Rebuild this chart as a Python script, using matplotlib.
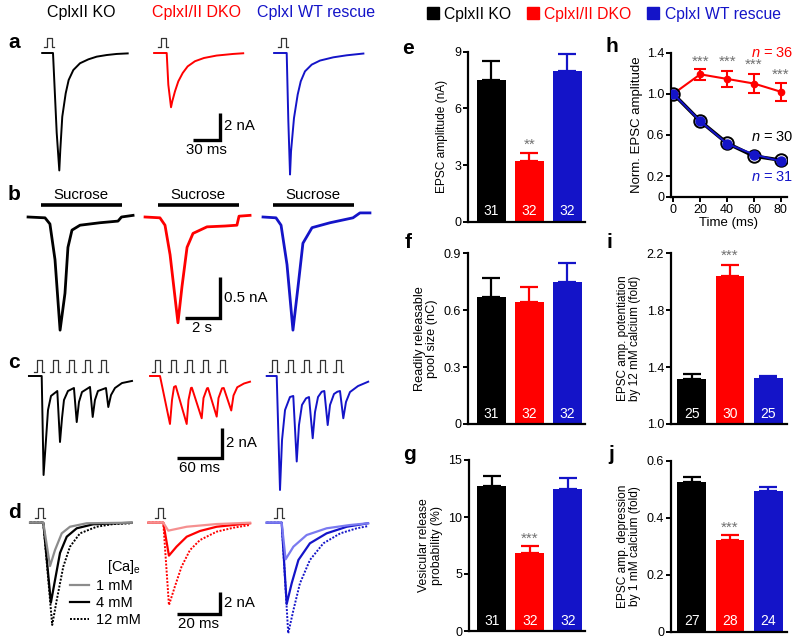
import numpy as np
import matplotlib
matplotlib.use('Agg')
import matplotlib.pyplot as plt
import matplotlib.transforms as mtransforms
from matplotlib.lines import Line2D
from matplotlib.patches import Patch

plt.rcParams['font.family'] = ['Liberation Sans', 'DejaVu Sans']
plt.rcParams['mathtext.fontset'] = 'custom'
plt.rcParams['mathtext.rm'] = 'Liberation Sans'
plt.rcParams['mathtext.it'] = 'Liberation Sans:italic'

# ---- data ----
GENOS = ['CplxII KO', 'CplxI/II DKO', 'CplxI WT rescue']
COLORS = ['#000000', '#ff0000', '#1414c8']
LIGHT = ['#8c8c8c', '#f59090', '#7a7af0']

# a: single EPSCs (ms, nA)
A_KO_T = [-12, 0, 4.1, 7, 8.1, 10.3, 14.1, 17.4, 22.6, 30, 39.3, 48.6, 59.7, 70.8, 83]
A_KO_I = [0, 0, -5.9, -8.7, -7.19, -4.72, -2.99, -2.0, -1.26, -0.76, -0.47, -0.27, -0.15, -0.07, -0.03]
A_DKO_T = [-14, 0, 1.8, 4.8, 6.2, 9.2, 12.9, 17.8, 23.3, 31.4, 41.4, 55.4, 73.8, 85]
A_DKO_I = [0, 0, -2.35, -4.02, -3.58, -2.84, -2.1, -1.48, -0.99, -0.61, -0.37, -0.19, -0.07, -0.02]
A_RES_T = [-14, 0, 1.8, 3.7, 4.8, 8.1, 12.2, 15.6, 20.3, 27.8, 37, 51.8, 66.7, 85.2]
A_RES_I = [0, 0, -5.0, -9.0, -7.29, -4.82, -3.08, -2.1, -1.36, -0.86, -0.56, -0.32, -0.17, -0.04]

# b: sucrose responses (s, nA)
SUCROSE_S = 4.6
B_KO_T = [-0.74, 0.23, 0.51, 0.8, 1.09, 1.37, 1.54, 1.77, 2.23, 3.37, 4.4, 4.6, 5.26]
B_KO_I = [0, -0.01, -0.085, -0.52, -1.38, -0.93, -0.37, -0.16, -0.1, -0.07, -0.05, 0, 0.02]
B_DKO_T = [-0.74, 0.11, 0.4, 0.69, 1.14, 1.37, 1.66, 2.0, 2.8, 3.83, 4.51, 4.63, 5.26]
B_DKO_I = [0, -0.01, -0.1, -0.46, -1.29, -0.85, -0.37, -0.2, -0.12, -0.11, -0.1, 0.01, 0.02]
B_RES_T = [-0.57, 0.17, 0.46, 0.8, 1.14, 1.43, 1.71, 2.23, 3.26, 4.57, 4.97, 5.54]
B_RES_I = [0, -0.01, -0.1, -0.58, -1.38, -0.85, -0.32, -0.13, -0.07, -0.01, 0.05, 0.05]

# c: trains (ms, nA)
STIM_C = [0, 21.5, 43, 64.5, 86]
C_KO_T = [-17, 0, 2.5, 5.7, 8.4, 12.4, 20.8, 24.4, 27.1, 29.7, 35, 43, 46.7, 49.7, 53.7,
          64.4, 68, 71, 75, 85.7, 88.8, 92.4, 97.7, 107, 120.4]
C_KO_I = [0, 0, -6.6, -4.27, -2.27, -1.33, -1.0, -4.4, -2.8, -1.6, -1.0, -0.8, -3.07, -1.73, -1.07,
          -0.73, -2.73, -1.6, -1.0, -0.8, -2.07, -1.27, -0.8, -0.47, -0.33]
C_DKO_T = [-13.3, 0, 13.3, 16, 18.7, 21, 35.6, 38, 41.3, 42.5, 55.6, 58, 62.7, 64,
           75.6, 78, 82.7, 85, 95, 98, 103, 112, 120]
C_DKO_I = [0, 0, -3.2, -1.6, -0.73, -0.67, -3.2, -1.6, -0.8, -0.78, -2.82, -1.47, -0.82, -0.8,
           -2.71, -1.47, -0.82, -0.8, -2.3, -1.3, -0.75, -0.5, -0.38]
C_RES_T = [-13.3, 0, 4.4, 7.1, 11.1, 17.7, 22.1, 26.7, 29.7, 33.7, 39.1, 43.1, 48, 51.1, 55.1,
           60, 63.5, 68, 71.1, 76.4, 80.8, 84.4, 88.8, 92.4, 97.7, 108.4, 122]
C_RES_I = [0, 0, -7.6, -4.27, -2.27, -1.4, -1.33, -5.7, -3.27, -1.93, -1.49, -1.4, -4.15, -2.4, -1.4,
           -1.05, -1.0, -3.27, -1.93, -1.2, -1.05, -1.0, -2.82, -1.73, -1.07, -0.67, -0.38]

# d: 1, 4, 12 mM calcium (ms, nA)
CA_LABELS = ['1 mM', '4 mM', '12 mM']
D_KO_1_T = [-6.1, 0, 3.1, 5.4, 8.5, 12.3, 20, 40.7]
D_KO_1_I = [0, 0, -3.87, -2.44, -0.95, -0.36, -0.05, 0]
D_KO_4_T = [-6.1, 0, 3.5, 5.4, 7.7, 10.8, 15.4, 23, 40.7]
D_KO_4_I = [0, 0, -7.14, -5.12, -2.7, -1.25, -0.5, -0.14, 0]
D_KO_12_T = [-6.1, 0, 4.1, 6.2, 9.2, 12.3, 16.9, 24.6, 32.3, 40.7]
D_KO_12_I = [0, 0, -9.13, -6.9, -3.93, -2.14, -0.95, -0.36, -0.12, -0.05]
D_DKO_1_T = [-6.9, 0, 2.3, 10.8, 24.6, 40]
D_DKO_1_I = [0, 0, -0.71, -0.36, -0.12, 0]
D_DKO_4_T = [-6.9, 0, 2.6, 6.1, 10.8, 16.9, 24.6, 40]
D_DKO_4_I = [0, 0, -2.94, -2.14, -1.25, -0.74, -0.36, -0.05]
D_DKO_12_T = [-6.9, 0, 2.6, 5.3, 8.4, 12.3, 16.9, 24.6, 32.3, 40]
D_DKO_12_I = [0, 0, -7.36, -5.72, -3.93, -2.44, -1.55, -0.8, -0.45, -0.2]
D_RES_1_T = [-6.9, 0, 1.8, 5.4, 11.5, 20.7, 31.3, 39.8]
D_RES_1_I = [0, 0, -3.27, -2.14, -1.1, -0.5, -0.21, -0.05]
D_RES_4_T = [-6.9, 0, 2.3, 4.6, 7.7, 13, 20.7, 30, 39.8]
D_RES_4_I = [0, 0, -7.26, -5.41, -3.33, -1.84, -0.95, -0.36, -0.05]
D_RES_12_T = [-6.9, 0, 3, 5.4, 8.4, 13, 19.2, 27, 34.6, 39.8]
D_RES_12_I = [0, 0, -9.88, -7.8, -5.42, -3.33, -1.84, -0.95, -0.5, -0.3]

# bar panels
E_MEAN = [7.5, 3.2, 8.0]
E_SEM = [1.0, 0.45, 0.9]
E_N = [31, 32, 32]
F_MEAN = [0.668, 0.643, 0.75]
F_SEM = [0.10, 0.081, 0.098]
F_N = [31, 32, 32]
G_MEAN = [12.75, 6.87, 12.5]
G_SEM = [0.85, 0.59, 0.95]
G_N = [31, 32, 32]
I_MEAN = [1.316, 2.04, 1.32]
I_SEM = [0.034, 0.08, 0.018]
I_N = [25, 30, 25]
J_MEAN = [0.526, 0.322, 0.494]
J_SEM = [0.018, 0.016, 0.013]
J_N = [27, 28, 24]

# h: paired pulse
H_TIME = [0, 20, 40, 60, 80]
H_KO = [1.0, 0.735, 0.52, 0.395, 0.355]
H_DKO = [1.0, 1.19, 1.145, 1.10, 1.02]
H_DKO_SEM = [0, 0.055, 0.08, 0.09, 0.085]
H_RES = [1.0, 0.735, 0.515, 0.41, 0.345]
H_STAR_Y = [1.31, 1.31, 1.28, 1.19]
H_N = [30, 36, 31]

# ---- layout ----
W, H = 800, 643
fig = plt.figure(figsize=(8, 6.43), dpi=100)


def px_box(l, t, r, b):
    return [l / W, 1 - b / H, (r - l) / W, (b - t) / H]


def fig_xy(x, y):
    return x / W, 1 - y / H


def row_axes(top, bottom, base, sx, sy):
    ax = fig.add_axes(px_box(0, top, 400, bottom))
    ax.set_xlim(0, 400 / sx)
    ax.set_ylim(-(bottom - base) / sy, (base - top) / sy)
    ax.axis('off')
    return ax


def pulse(ax, t_end, sx, sy, lo, hi):
    w = 5 / sx
    xs = [t_end - w - 3 / sx, t_end - w, t_end - w, t_end, t_end, t_end + 2 / sx]
    ys = [lo / sy, lo / sy, hi / sy, hi / sy, lo / sy, lo / sy]
    ax.plot(xs, ys, color='#333333', lw=0.9, clip_on=False)


def scale_bar(ax, cx, cy, base, sx, sy, xlen, ylen, xtxt, ytxt):
    x0 = cx / sx
    y0 = -(cy - base) / sy
    ax.plot([x0 - xlen, x0, x0], [y0, y0, y0 + ylen], color='k', lw=2.4,
            solid_joinstyle='miter', solid_capstyle='butt', clip_on=False)
    ax.text(x0 + 4 / sx, y0 + ylen / 2, ytxt, ha='left', va='center', fontsize=10.8)
    ax.text(x0 - xlen / 2, y0 - 3 / sy, xtxt, ha='center', va='top', fontsize=10.8)


def trace(ax, t, i, x0, c, lw=1.4, ls='-'):
    ax.plot(np.array(t) + x0, i, color=c, lw=lw, ls=ls, clip_on=False,
            solid_joinstyle='round')


# column titles and panel letters
for x, name, c in zip([81, 197, 316], GENOS, COLORS):
    fig.text(*fig_xy(x, 13), name, color=c, ha='center', va='center', fontsize=11.5)
for x, y, s in [(14, 43, 'a'), (14, 195, 'b'), (14, 363, 'c'), (14, 513, 'd'),
                (408, 48, 'e'), (408, 243, 'f'), (410, 455, 'g'),
                (612, 47, 'h'), (609, 242, 'i'), (611, 455, 'j')]:
    fig.text(*fig_xy(x, y), s, ha='center', va='center', fontsize=15, fontweight='bold')

# row a
sx, sy, base = 0.9, 13.5, 53
ax = row_axes(28, 182, base, sx, sy)
for x0, t, i, c in zip([53, 166.7, 286.7], [A_KO_T, A_DKO_T, A_RES_T],
                       [A_KO_I, A_DKO_I, A_RES_I], COLORS):
    trace(ax, t, i, x0 / sx, c)
    pulse(ax, x0 / sx - 1 / sx, sx, sy, 6, 14.7)
scale_bar(ax, 220, 140, base, sx, sy, 30, 2, '30 ms', '2 nA')

# row b
sx, sy, base = 17.5, 82, 217
ax = row_axes(185, 342, base, sx, sy)
for x0, t, i, c in zip([41, 158, 273], [B_KO_T, B_DKO_T, B_RES_T],
                       [B_KO_I, B_DKO_I, B_RES_I], COLORS):
    trace(ax, t, i, x0 / sx, c, lw=2.0)
    ax.plot([x0 / sx, x0 / sx + SUCROSE_S], [12 / sy] * 2, color='k', lw=2.6,
            solid_capstyle='butt', clip_on=False)
    ax.text(x0 / sx + SUCROSE_S / 2, 22 / sy, 'Sucrose', ha='center', va='center', fontsize=10.8)
scale_bar(ax, 220, 318, base, sx, sy, 2, 0.5, '2 s', '0.5 nA')

# row c
sx, sy, base = 0.75, 15, 376
ax = row_axes(350, 492, base, sx, sy)
for x0, t, i, c in zip([41.7, 160, 276.7], [C_KO_T, C_DKO_T, C_RES_T],
                       [C_KO_I, C_DKO_I, C_RES_I], COLORS):
    trace(ax, t, i, x0 / sx, c)
    for s in STIM_C:
        pulse(ax, x0 / sx + s, sx, sy, 4.3, 16)
scale_bar(ax, 222, 458, base, sx, sy, 60, 2, '60 ms', '2 nA')

# row d
sx, sy, base = 2.17, 11.2, 522.7
ax = row_axes(495, 643, base, sx, sy)
d_sets = [
    [(D_KO_12_T, D_KO_12_I), (D_KO_4_T, D_KO_4_I), (D_KO_1_T, D_KO_1_I)],
    [(D_DKO_12_T, D_DKO_12_I), (D_DKO_4_T, D_DKO_4_I), (D_DKO_1_T, D_DKO_1_I)],
    [(D_RES_12_T, D_RES_12_I), (D_RES_4_T, D_RES_4_I), (D_RES_1_T, D_RES_1_I)],
]
for x0, sets, c, lc in zip([43.3, 163.3, 281.7], d_sets, COLORS, LIGHT):
    (t12, i12), (t4, i4), (t1, i1) = sets
    trace(ax, t12, i12, x0 / sx, c, lw=1.4, ls=(0, (1, 0.8)))
    trace(ax, t4, i4, x0 / sx, c, lw=1.6)
    trace(ax, t1, i1, x0 / sx, lc, lw=1.6)
    pulse(ax, x0 / sx, sx, sy, 4.4, 14.4)
scale_bar(ax, 220, 614, base, sx, sy, 20, 2, '20 ms', '2 nA')
handles = [Line2D([], [], color=LIGHT[0], lw=1.6), Line2D([], [], color='k', lw=1.6),
           Line2D([], [], color='k', lw=1.4, ls=(0, (1, 0.8)))]
leg = ax.legend(handles, CA_LABELS, title='[Ca]$_{\\rm e}$', loc='upper left',
                bbox_to_anchor=fig_xy(70, 558), bbox_transform=fig.transFigure,
                frameon=False, fontsize=10.5, title_fontsize=10.5, handlelength=1.3,
                handletextpad=0.5, labelspacing=0.2, borderpad=0, borderaxespad=0)
leg._legend_box.align = 'right'

# top legend
tleg = fig.legend([Patch(color=c) for c in COLORS], GENOS, loc='center left',
                  bbox_to_anchor=fig_xy(427, 14), ncol=3, frameon=False, fontsize=11.3,
                  handlelength=0.75, handleheight=0.75, handletextpad=0.35,
                  columnspacing=1.0, borderpad=0, borderaxespad=0)
for txt, c in zip(tleg.get_texts(), COLORS):
    txt.set_color(c)


def style(ax):
    for s in ['top', 'right']:
        ax.spines[s].set_visible(False)
    for s in ['left', 'bottom']:
        ax.spines[s].set_linewidth(1.6)
    ax.tick_params(direction='out', length=3.5, width=1.4, labelsize=9, pad=1.5)


def bar_panel(rect, mean, sem, n, ylim, ticks, ticklabels, ylabel, star, star_y, xlim, lsize=8.8):
    ax = fig.add_axes(px_box(*rect))
    x = np.arange(3)
    ax.bar(x, mean, width=0.76, color=COLORS, zorder=2)
    for xi, m, s, c in zip(x, mean, sem, COLORS):
        ax.errorbar(xi, m, yerr=[[0], [s]], fmt='none', ecolor=c, elinewidth=1.6,
                    capsize=6.5, capthick=1.6, zorder=3)
    trans = mtransforms.blended_transform_factory(ax.transData, ax.transAxes)
    for xi, k in zip(x, n):
        ax.text(xi, 0.06, str(k), transform=trans, color='white', ha='center',
                va='center', fontsize=10, zorder=4)
    if star:
        ax.text(1, star_y, star, ha='center', va='center', color='#707070', fontsize=11)
    ax.set_xlim(*xlim)
    ax.set_ylim(*ylim)
    ax.set_xticks([])
    ax.set_yticks(ticks)
    ax.set_yticklabels(ticklabels)
    ax.set_ylabel(ylabel, fontsize=lsize, labelpad=4, linespacing=1.05)
    style(ax)
    return ax


bar_panel((468, 51.7, 585, 221.7), E_MEAN, E_SEM, E_N, (0, 9), [0, 3, 6, 9],
          ['0', '3', '6', '9'], 'EPSC amplitude (nA)', '**', 4.06, (-0.62, 2.47), 8.6)
bar_panel((468, 253.3, 585, 424), F_MEAN, F_SEM, F_N, (0, 0.9), [0, 0.3, 0.6, 0.9],
          ['0', '0.3', '0.6', '0.9'], 'Readily releasable\npool size (nC)', None, 0, (-0.62, 2.47), 9.2)
bar_panel((469, 460, 585, 631), G_MEAN, G_SEM, G_N, (0, 15), [0, 5, 10, 15],
          ['0', '5', '10', '15'], 'Vesicular release\nprobability (%)', '***', 8.13, (-0.6, 2.45), 8.8)
bar_panel((671, 253.3, 786.7, 424), I_MEAN, I_SEM, I_N, (1.0, 2.2), [1.0, 1.4, 1.8, 2.2],
          ['1.0', '1.4', '1.8', '2.2'], 'EPSC amp. potentiation\nby 12 mM calcium (fold)',
          '***', 2.18, (-0.55, 2.49), 8.5)
bar_panel((671, 460.7, 786.7, 631.7), J_MEAN, J_SEM, J_N, (0, 0.6), [0, 0.2, 0.4, 0.6],
          ['0', '0.2', '0.4', '0.6'], 'EPSC amp. depression\nby 1 mM calcium (fold)',
          '***', 0.363, (-0.55, 2.49), 8.6)

# h
ax = fig.add_axes(px_box(671, 52.7, 786.7, 196.7))
ax.errorbar(H_TIME, H_DKO, yerr=H_DKO_SEM, color=COLORS[1], lw=1.5, marker='o', ms=4.5,
            elinewidth=1.5, capsize=4.5, capthick=1.5, zorder=2)
ax.plot(H_TIME, H_KO, color='k', lw=2.6, marker='o', ms=9, mfc='none', mec='k', mew=1.4,
        zorder=3)
ax.plot(H_TIME, H_RES, color=COLORS[2], lw=1.4, marker='o', ms=6.5, zorder=4)
for t, y in zip(H_TIME[1:], H_STAR_Y):
    ax.text(t, y, '***', ha='center', va='center', color='#707070', fontsize=11)
ax.text(1.055, 1.0, '$n$ = %d' % H_N[1], transform=ax.transAxes, color=COLORS[1],
        ha='right', va='center', fontsize=10.5)
ax.text(1.055, 0.417, '$n$ = %d' % H_N[0], transform=ax.transAxes, color=COLORS[0],
        ha='right', va='center', fontsize=10.5)
ax.text(1.055, 0.139, '$n$ = %d' % H_N[2], transform=ax.transAxes, color=COLORS[2],
        ha='right', va='center', fontsize=10.5)
ax.set_xlim(-1.7, 84.3)
ax.set_ylim(0, 1.4)
ax.set_xticks(H_TIME)
ax.set_yticks([0, 0.2, 0.6, 1.0, 1.4])
ax.set_yticklabels(['0', '0.2', '0.6', '1.0', '1.4'])
ax.set_xlabel('Time (ms)', fontsize=9.5, labelpad=1)
ax.set_ylabel('Norm. EPSC amplitude', fontsize=9.5, labelpad=3)
style(ax)

fig.savefig('out.png', dpi=100)
